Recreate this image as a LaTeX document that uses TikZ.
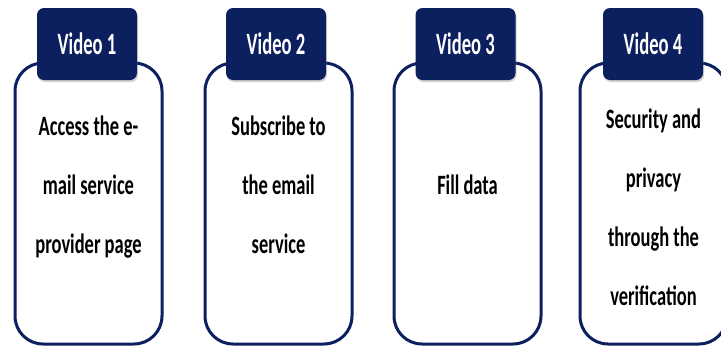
\documentclass[tikz,border=0pt]{standalone}
\usepackage{fontspec}
\setmainfont{Carlito}
\newfontfamily\bodyfont[FakeStretch=0.66]{Carlito}
\newfontfamily\headfont[FakeStretch=0.6]{Carlito}
\usetikzlibrary{positioning,shadows}
\definecolor{navy}{RGB}{12,31,94}
\tikzset{
  card/.style={draw=navy, line width=3pt, rounded corners=28pt, fill=white,
    minimum width=147pt, minimum height=281pt},
  tab/.style={fill=navy, rounded corners=7pt, minimum width=100pt, minimum height=72pt,
    text=white, font={\headfont\bfseries\fontsize{31}{32}\selectfont},
    drop shadow={shadow xshift=1pt, shadow yshift=-2pt, opacity=0.35}},
  words/.style={align=center, font={\bodyfont\bfseries\fontsize{28}{59}\selectfont}}
}
\begin{document}
\begin{tikzpicture}[x=1pt, y=-1pt, node distance=189pt]
\clip (0,0) rectangle (721,349);
\fill[white] (0,0) rectangle (721,349);
% boxes
\node (b1) [card] at (88.5,203.5) {};
\node (b2) [card, right of = b1, xshift=1pt] {};
\node (b3) [card, right of = b2] {};
\node (b4) [card, right of = b3, xshift=-3pt] {};
% tabs
\node (v1) [tab, above of = b1, node distance=159.5pt, xshift=-1.5pt] {Video 1};
\node (v2) [tab, above of = b2, node distance=159.5pt, xshift=-2.5pt] {Video 2};
\node (v3) [tab, above of = b3, node distance=159.5pt, xshift=-2pt] {Video 3};
\node (v4) [tab, above of = b4, node distance=159.5pt, xshift=-0.5pt] {Video 4};
% texts
\node (t1) [words] at ([yshift=16pt]b1) {Access the e-\\mail service\\provider page};
\node (t2) [words] at ([yshift=19pt]b2) {Subscribe to\\the email\\service};
\node (t3) [words] at ([yshift=18.5pt]b3) {Fill data};
\node (t4) [words] at ([yshift=-3.5pt]b4) {Security and\\privacy\\through the\\verification};
\end{tikzpicture}
\end{document}
